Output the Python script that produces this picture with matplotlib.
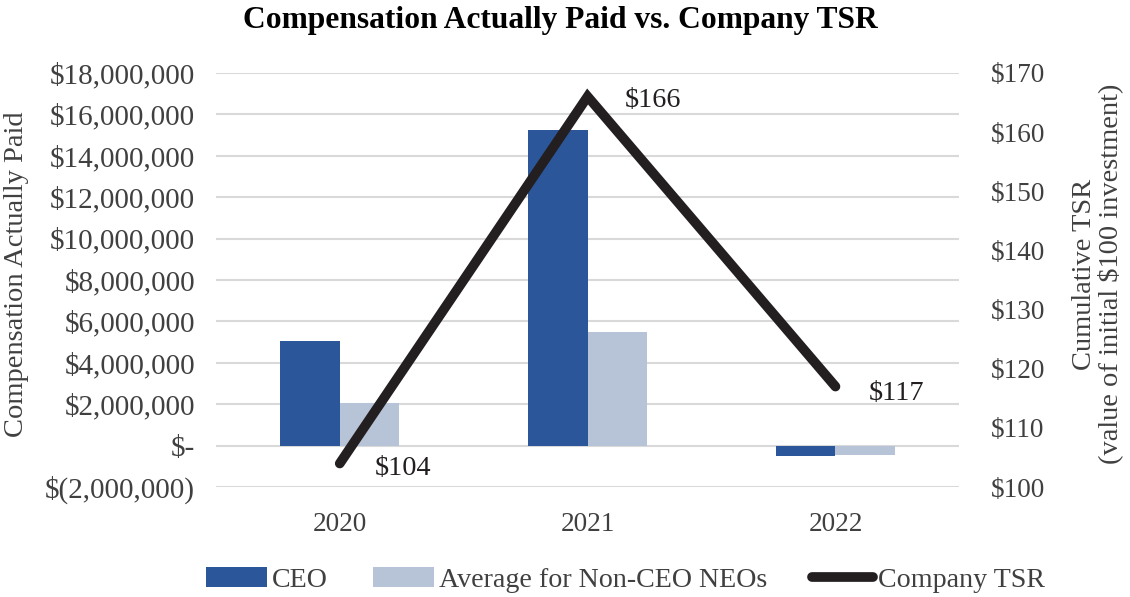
import matplotlib
matplotlib.use("Agg")
import matplotlib.pyplot as plt
from matplotlib.ticker import FuncFormatter
import numpy as np

years = ["2020", "2021", "2022"]
ceo_cap = [5050000, 15250000, -480000]
neo_cap = [2080000, 5470000, -450000]
tsr = [104, 166, 117]
tsr_labels = ["$104", "$166", "$117"]

plt.rcParams['font.family'] = ['Liberation Serif', 'DejaVu Serif']

fig = plt.figure(figsize=(11.30, 5.97), dpi=100)
ax = fig.add_axes([0.191, 0.184, 0.658, 0.694])
ax2 = ax.twinx()

x = np.arange(len(years))
w = 0.24
ceo_c = "#2B579A"
neo_c = "#B7C4D8"
line_c = "#231F20"
txt_c = "#404040"

ax.set_axisbelow(True)
ax.yaxis.grid(True, color="#D9D9D9", linewidth=1.5)
b1 = ax.bar(x - w/2, ceo_cap, width=w, color=ceo_c, label="CEO", zorder=2)
b2 = ax.bar(x + w/2, neo_cap, width=w, color=neo_c, label="Average for Non-CEO NEOs", zorder=2)
ax.set_ylim(-2000000, 18000000)
ax.set_yticks(np.arange(-2000000, 18000001, 2000000))
ax.set_xlim(-0.5, 2.5)
ax.set_xticks(x)
ax.set_xticklabels(years)

def fmt(v, pos):
    if abs(v) < 1:
        return "$-"
    if v < 0:
        return "$({:,.0f})".format(-v)
    return "${:,.0f}".format(v)
ax.yaxis.set_major_formatter(FuncFormatter(fmt))

l1, = ax2.plot(x, tsr, color=line_c, linewidth=7, solid_capstyle="round",
               solid_joinstyle="miter", label="Company TSR", zorder=3)
ax2.set_ylim(100, 170)
ax2.set_yticks(np.arange(100, 171, 10))
ax2.yaxis.set_major_formatter(FuncFormatter(lambda v, p: "${:.0f}".format(v)))

offsets = [(0.14, -0.8), (0.15, -0.7), (0.133, -1.1)]
for xi, yi, lab, (dx, dy) in zip(x, tsr, tsr_labels, offsets):
    ax2.text(xi + dx, yi + dy, lab, fontsize=20.3, color="#231F20",
             ha="left", va="center")

for a in (ax, ax2):
    for s in a.spines.values():
        s.set_visible(False)
    a.tick_params(length=0, labelcolor=txt_c)
ax.tick_params(axis="x", pad=18, labelsize=19.6)
ax.tick_params(axis="y", pad=15, labelsize=21)
ax2.tick_params(axis="y", pad=23, labelsize=19.6)

ax.set_ylabel("Compensation Actually Paid", fontsize=20.5, color=txt_c)
ax.yaxis.set_label_coords(-0.251, 0.514)
ax2.set_ylabel("Cumulative TSR\n(value of initial $100 investment)", fontsize=20.5,
               color=txt_c, rotation=90, linespacing=1.05)
ax2.yaxis.set_label_coords(1.151, 0.514)

fig.suptitle("Compensation Actually Paid vs. Company TSR", fontsize=22.7,
             fontweight="bold", y=0.99, x=0.4956)

leg = fig.legend(handles=[b1, b2, l1], loc="lower center", ncol=3,
                 bbox_to_anchor=(0.5535, -0.035), frameon=False, fontsize=20.2,
                 handlelength=2.17, handletextpad=0.18, columnspacing=1.6)
for t in leg.get_texts():
    t.set_color(txt_c)

fig.savefig("out.png", dpi=100)
